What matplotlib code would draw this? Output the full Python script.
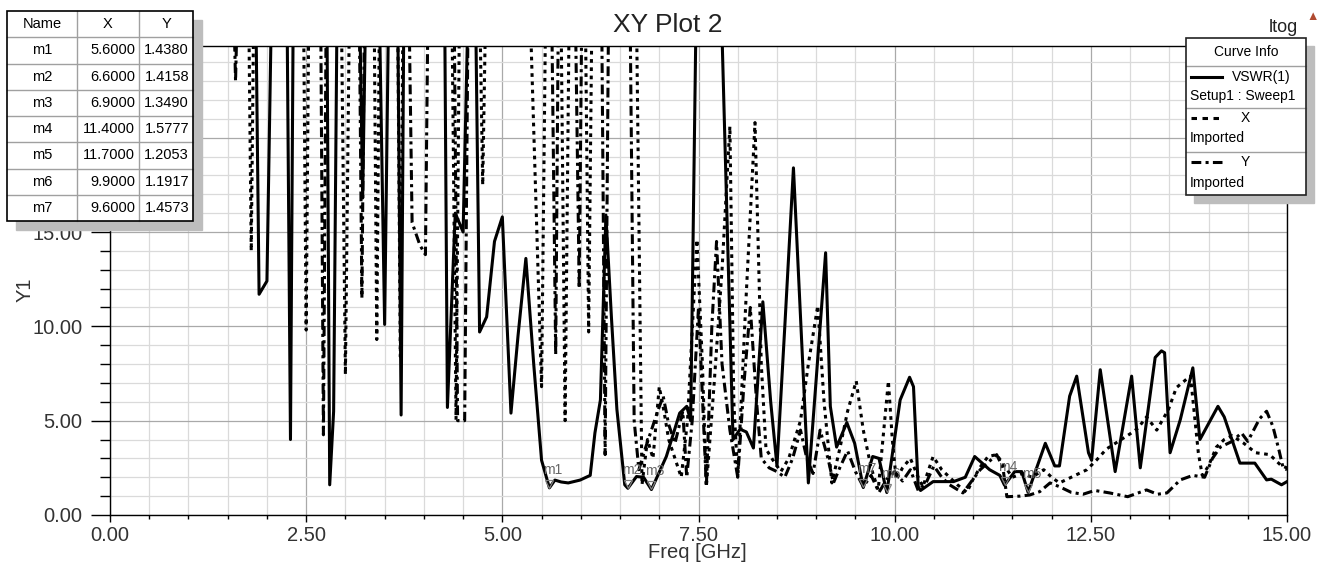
import matplotlib
matplotlib.use("Agg")
import matplotlib.pyplot as plt
import numpy as np
from matplotlib.ticker import MultipleLocator, FuncFormatter
from matplotlib.transforms import ScaledTranslation
from matplotlib.patches import Rectangle

plt.rcParams['font.family'] = ['Liberation Sans', 'DejaVu Sans']

# VSWR(1)  Setup1 : Sweep1  (values above the top are off-scale)
vswr_freq = [1.85, 1.90, 2.00, 2.07, 2.25, 2.30, 2.34, 2.76, 2.80, 2.85, 2.90, 3.17, 3.22, 3.27, 3.42, 3.50, 3.56, 3.66, 3.71, 3.75,
             4.26, 4.30, 4.40, 4.50, 4.58, 4.65, 4.71, 4.80, 4.90, 5.00, 5.11, 5.20, 5.30, 5.40, 5.50, 5.60, 5.67, 5.75, 5.84, 5.99,
             6.12, 6.18, 6.25, 6.32, 6.39, 6.46, 6.56, 6.60, 6.71, 6.80, 6.90, 7.09, 7.26, 7.35, 7.40, 7.48, 7.77, 7.94, 8.03, 8.11,
             8.20, 8.32, 8.42, 8.50, 8.60, 8.71, 8.80, 8.90, 9.00, 9.12, 9.18, 9.26, 9.39, 9.49, 9.60, 9.72, 9.80, 9.90, 10.07, 10.19,
             10.24, 10.30, 10.33, 10.49, 10.75, 10.90, 11.02, 11.21, 11.34, 11.40, 11.53, 11.62, 11.70, 11.92, 12.04, 12.10, 12.23, 12.32, 12.47, 12.51,
             12.62, 12.81, 13.02, 13.13, 13.32, 13.40, 13.44, 13.51, 13.64, 13.80, 13.89, 14.12, 14.20, 14.40, 14.59, 14.74, 14.80, 14.93, 15.00]
vswr_val = [30, 11.7, 12.4, 30, 30, 4.0, 30, 30, 1.6, 5.5, 30, 30, 16.8, 30, 30, 10.1, 30, 30, 5.3, 30,
            30, 5.7, 16.0, 15.0, 30, 30, 9.7, 10.5, 14.5, 15.8, 5.4, 9.5, 13.6, 8.0, 2.9, 1.438, 1.85, 1.75, 1.7, 1.85,
            2.1, 4.35, 6.1, 15.9, 10.5, 5.6, 1.6, 1.416, 2.04, 2.0, 1.349, 3.1, 5.4, 5.76, 5.0, 30, 30, 4.0, 4.55, 4.4,
            3.55, 11.3, 6.0, 2.6, 10.0, 18.4, 10.5, 1.7, 7.2, 13.9, 5.76, 3.6, 4.9, 3.8, 1.457, 3.1, 3.0, 1.192, 6.1, 7.3,
            6.8, 1.5, 1.3, 1.77, 1.77, 2.0, 3.1, 2.4, 2.1, 1.578, 2.3, 2.3, 1.205, 3.8, 2.6, 2.6, 6.3, 7.36, 3.3, 2.9,
            7.7, 2.3, 7.36, 2.5, 8.35, 8.7, 8.6, 3.3, 5.05, 7.8, 4.0, 5.76, 5.2, 2.75, 2.75, 1.86, 1.9, 1.6, 1.77]

# X  Imported
x_freq = [1.76, 1.80, 1.84, 2.46, 2.50, 2.54, 2.94, 3.00, 3.06, 3.36, 3.40, 3.44, 3.66, 3.70, 3.74, 4.35, 4.41, 4.46, 4.70, 4.75, 4.80,
          5.33, 5.50, 5.56, 5.74, 5.80, 5.86, 6.05, 6.10, 6.15, 6.70, 6.78, 6.85, 6.92, 7.00, 7.06, 7.12, 7.20, 7.28, 7.36, 7.48, 7.55, 7.60,
          7.70, 7.80, 7.90, 7.95, 8.00, 8.10, 8.22, 8.30, 8.36, 8.45, 8.55, 8.65, 8.80, 8.90, 9.02, 9.10, 9.20, 9.30, 9.40, 9.51,
          9.60, 9.70, 9.79, 9.85, 9.92, 9.97, 10.02, 10.10, 10.20, 10.30, 10.36, 10.49, 10.60, 10.80, 10.92, 11.00, 11.10, 11.19, 11.30, 11.40,
          11.50, 11.63, 11.75, 11.90, 12.00, 12.10, 12.20, 12.30, 12.45, 12.57, 12.70, 12.85, 13.00, 13.10, 13.21, 13.34, 13.49, 13.59, 13.72, 13.77,
          13.87, 13.92, 14.00, 14.10, 14.20, 14.30, 14.45, 14.60, 14.78, 14.93, 15.00]
x_val = [30, 14.0, 30, 30, 9.8, 30, 30, 7.45, 30, 30, 9.3, 30, 30, 8.4, 30, 30, 5.05, 30, 30, 17.5, 30,
         30, 6.8, 30, 30, 5.0, 30, 30, 9.7, 30, 30, 1.6, 4.0, 3.0, 6.8, 5.5, 4.0, 3.0, 2.0, 5.0, 14.6, 8.0, 1.5,
         7.0, 13.0, 20.6, 6.0, 2.0, 11.0, 20.8, 8.0, 3.5, 2.9, 2.3, 3.0, 5.0, 8.0, 11.1, 6.0, 1.7, 3.5, 5.5, 7.1,
         4.5, 2.5, 1.33, 4.0, 7.1, 4.0, 1.86, 2.5, 3.0, 2.0, 1.5, 3.1, 2.4, 1.6, 1.2, 1.9, 2.6, 3.1, 3.2, 2.6,
         2.0, 2.2, 2.0, 2.4, 2.0, 1.7, 1.9, 2.1, 2.4, 2.9, 3.5, 3.9, 4.3, 4.6, 5.2, 4.5, 5.6, 6.75, 7.2, 7.36,
         3.3, 2.1, 2.6, 3.6, 4.0, 4.2, 3.8, 3.3, 3.2, 2.6, 2.5]

# Y  Imported
y_freq = [1.56, 1.60, 1.64, 2.68, 2.72, 2.76, 3.17, 3.21, 3.25, 3.80, 3.85, 3.95, 4.02, 4.06, 4.38, 4.43, 4.52, 4.57,
          5.62, 5.68, 5.72, 5.92, 5.98, 6.02, 6.26, 6.31, 6.36, 6.62, 6.68, 6.74, 6.82, 6.90, 6.98, 7.05, 7.12, 7.20, 7.30, 7.35, 7.42,
          7.50, 7.60, 7.67, 7.73, 7.80, 7.90, 8.00, 8.08, 8.16, 8.24, 8.30, 8.40, 8.50, 8.60, 8.70, 8.80, 8.88, 8.96, 9.05, 9.15,
          9.22, 9.30, 9.40, 9.50, 9.60, 9.70, 9.80, 9.90, 10.00, 10.10, 10.20, 10.30, 10.40, 10.50, 10.60, 10.70, 10.87, 11.00, 11.09, 11.30,
          11.38, 11.43, 11.60, 11.72, 11.85, 11.98, 12.10, 12.25, 12.40, 12.55, 12.74, 12.97, 13.21, 13.35, 13.47, 13.64, 13.80, 13.95, 14.05, 14.15,
          14.30, 14.42, 14.50, 14.65, 14.74, 14.82, 14.90, 14.95, 15.00]
y_val = [30, 23.0, 30, 30, 4.25, 30, 30, 11.5, 30, 30, 15.5, 14.3, 13.8, 30, 30, 5.0, 5.0, 30,
         30, 8.5, 30, 30, 12.0, 30, 30, 3.2, 30, 30, 5.0, 2.4, 3.5, 4.5, 5.5, 6.3, 4.8, 3.8, 5.5, 2.0, 5.0,
         11.0, 1.5, 10.0, 14.5, 8.0, 4.5, 2.0, 7.0, 11.0, 6.0, 3.0, 2.5, 2.3, 2.0, 3.0, 4.5, 3.0, 2.2, 4.5, 3.0,
         1.7, 2.5, 3.4, 2.3, 1.5, 2.1, 1.2, 1.9, 2.3, 1.8, 2.4, 1.3, 1.7, 2.6, 2.0, 1.6, 1.17, 1.9, 2.4, 3.2,
         2.5, 0.97, 1.0, 1.06, 1.24, 1.7, 1.5, 1.2, 1.1, 1.3, 1.17, 0.97, 1.33, 1.1, 1.17, 1.86, 2.1, 2.0, 3.0, 3.6,
         3.9, 4.35, 3.9, 5.1, 5.5, 4.7, 3.4, 2.5, 2.4]

# markers
mk_name = ["m1", "m2", "m3", "m4", "m5", "m6", "m7"]
mk_x = [5.6, 6.6, 6.9, 11.4, 11.7, 9.9, 9.6]
mk_y = [1.4380, 1.4158, 1.3490, 1.5777, 1.2053, 1.1917, 1.4573]

assert len(vswr_freq) == len(vswr_val)
assert len(x_freq) == len(x_val)
assert len(y_freq) == len(y_val)

W, H = 1325, 567
L, R, B, T = 110, 1287, 515, 46
fig = plt.figure(figsize=(W / 100, H / 100), dpi=100)
ax = fig.add_axes([L / W, 1 - B / H, (R - L) / W, (B - T) / H])

lw = 2.2
ax.plot(vswr_freq, vswr_val, color='black', lw=lw)
ax.plot(x_freq, x_val, color='black', lw=lw, dashes=(1.2, 1.5))
ax.plot(y_freq, y_val, color='black', lw=lw, dashes=(3.2, 1.4, 1.0, 1.4))

off = ax.transData + ScaledTranslation(0, 3 / 72, fig.dpi_scale_trans)
for n, mx, my in zip(mk_name, mk_x, mk_y):
    ax.plot(mx, my, marker='v', ms=5.5, mfc='none', mec='#808080', mew=0.9, transform=off)
    ax.annotate(n, (mx, my), xytext=(-4.5, 8), textcoords='offset points',
                ha='left', va='bottom', fontsize=10, color='#666666')

ax.set_xlim(0, 15)
ax.set_ylim(0, (B - T) / ((B - 232) / 15))
ax.xaxis.set_major_locator(MultipleLocator(2.5))
ax.xaxis.set_minor_locator(MultipleLocator(0.5))
ax.yaxis.set_major_locator(MultipleLocator(5))
ax.yaxis.set_minor_locator(MultipleLocator(1))
ax.xaxis.set_major_formatter(FuncFormatter(lambda v, p: f"{v:.2f}"))
# the 20.00 label sits under the marker table in the reference
ax.yaxis.set_major_formatter(FuncFormatter(lambda v, p: f"{v:.2f}" if v < 17 else ""))
ax.grid(which='major', color='#a9a9a9', lw=0.9)
ax.grid(which='minor', color='#dadada', lw=0.9)
ax.set_axisbelow(True)
for s in ax.spines.values():
    s.set_color('black')
    s.set_linewidth(1.0)
ax.tick_params(axis='x', which='major', length=5, width=1, pad=3, labelsize=14.5, labelcolor='#333333')
ax.tick_params(axis='x', which='minor', length=3, width=1)
ax.tick_params(axis='y', which='major', length=14, width=1, pad=6, labelsize=14.5, labelcolor='#333333')
ax.tick_params(axis='y', which='minor', length=7, width=1)

fig.text(668 / W, 1 - 25 / H, "XY Plot 2", ha='center', va='center', fontsize=19, color='#222222')
fig.text(25 / W, 1 - 290 / H, "Y1", ha='center', va='center', rotation=90, fontsize=14.5, color='#333333')
fig.text(697 / W, 1 - 552 / H, "Freq [GHz]", ha='center', va='center', fontsize=14.5, color='#333333')

# overlay in pixel coordinates for the marker table and curve info box
ov = fig.add_axes([0, 0, 1, 1])
ov.set_xlim(0, W)
ov.set_ylim(H, 0)
ov.axis('off')
ov.patch.set_visible(False)

ov.text(1283, 28, "ltog", ha='center', va='center', fontsize=13, color='#222222')
ov.text(1313, 17, "▲", ha='center', va='center', fontsize=9, color='#b04a30')

# marker table
tx0, tx1, tx2, tx3 = 7, 77, 139, 193
ty0, rh = 11, 26.25
nrow = len(mk_name) + 1
ov.add_patch(Rectangle((tx0 + 9, ty0 + 9), tx3 - tx0, rh * nrow, color='#bdbdbd', zorder=1))
ov.add_patch(Rectangle((tx0, ty0), tx3 - tx0, rh * nrow, facecolor='white', edgecolor='none', zorder=2))
for i in range(1, nrow):
    ov.plot([tx0, tx3], [ty0 + i * rh] * 2, color='#a0a0a0', lw=1, zorder=3)
for xx in (tx1, tx2):
    ov.plot([xx, xx], [ty0, ty0 + rh * nrow], color='#a0a0a0', lw=1, zorder=3)
ov.add_patch(Rectangle((tx0, ty0), tx3 - tx0, rh * nrow, facecolor='none', edgecolor='black', lw=1.2, zorder=4))
fs = 10.5
ov.text((tx0 + tx1) / 2, ty0 + rh / 2, "Name", ha='center', va='center', fontsize=fs, zorder=5)
ov.text((tx1 + tx2) / 2, ty0 + rh / 2, "X", ha='center', va='center', fontsize=fs, zorder=5)
ov.text((tx2 + tx3) / 2, ty0 + rh / 2, "Y", ha='center', va='center', fontsize=fs, zorder=5)
for i, (n, mx, my) in enumerate(zip(mk_name, mk_x, mk_y)):
    yc = ty0 + (i + 1.5) * rh
    ov.text((tx0 + tx1) / 2, yc, n, ha='center', va='center', fontsize=fs, zorder=5)
    ov.text(tx2 - 4, yc, f"{mx:.4f}", ha='right', va='center', fontsize=fs, zorder=5)
    ov.text(tx3 - 4, yc, f"{my:.4f}", ha='right', va='center', fontsize=fs, zorder=5)

# curve info box
lx0, lx1, ly0, ly1 = 1186, 1306, 38, 195
ov.add_patch(Rectangle((lx0 + 8, ly0 + 8), lx1 - lx0, ly1 - ly0, color='#bdbdbd', zorder=1))
ov.add_patch(Rectangle((lx0, ly0), lx1 - lx0, ly1 - ly0, facecolor='white', edgecolor='none', zorder=2))
for yy in (66, 108, 152):
    ov.plot([lx0, lx1], [yy, yy], color='#a0a0a0', lw=1, zorder=3)
ov.add_patch(Rectangle((lx0, ly0), lx1 - lx0, ly1 - ly0, facecolor='none', edgecolor='#222222', lw=1.2, zorder=4))
lfs = 10
ov.text((lx0 + lx1) / 2, 52, "Curve Info", ha='center', va='center', fontsize=lfs, zorder=5)
ov.plot([1191, 1222], [77, 77], color='black', lw=lw, zorder=5)
ov.text(1232, 77, "VSWR(1)", ha='left', va='center', fontsize=lfs, zorder=5)
ov.text(1190, 96, "Setup1 : Sweep1", ha='left', va='center', fontsize=lfs, zorder=5)
ov.plot([1191, 1222], [118, 118], color='black', lw=lw, dashes=(1.8, 1.8), zorder=5)
ov.text(1245, 118, "X", ha='center', va='center', fontsize=lfs, zorder=5)
ov.text(1190, 138, "Imported", ha='left', va='center', fontsize=lfs, zorder=5)
ov.plot([1191, 1222], [162, 162], color='black', lw=lw, dashes=(3.2, 1.4, 1.0, 1.4), zorder=5)
ov.text(1245, 162, "Y", ha='center', va='center', fontsize=lfs, zorder=5)
ov.text(1190, 183, "Imported", ha='left', va='center', fontsize=lfs, zorder=5)

fig.savefig("out.png", dpi=100, facecolor='white')
